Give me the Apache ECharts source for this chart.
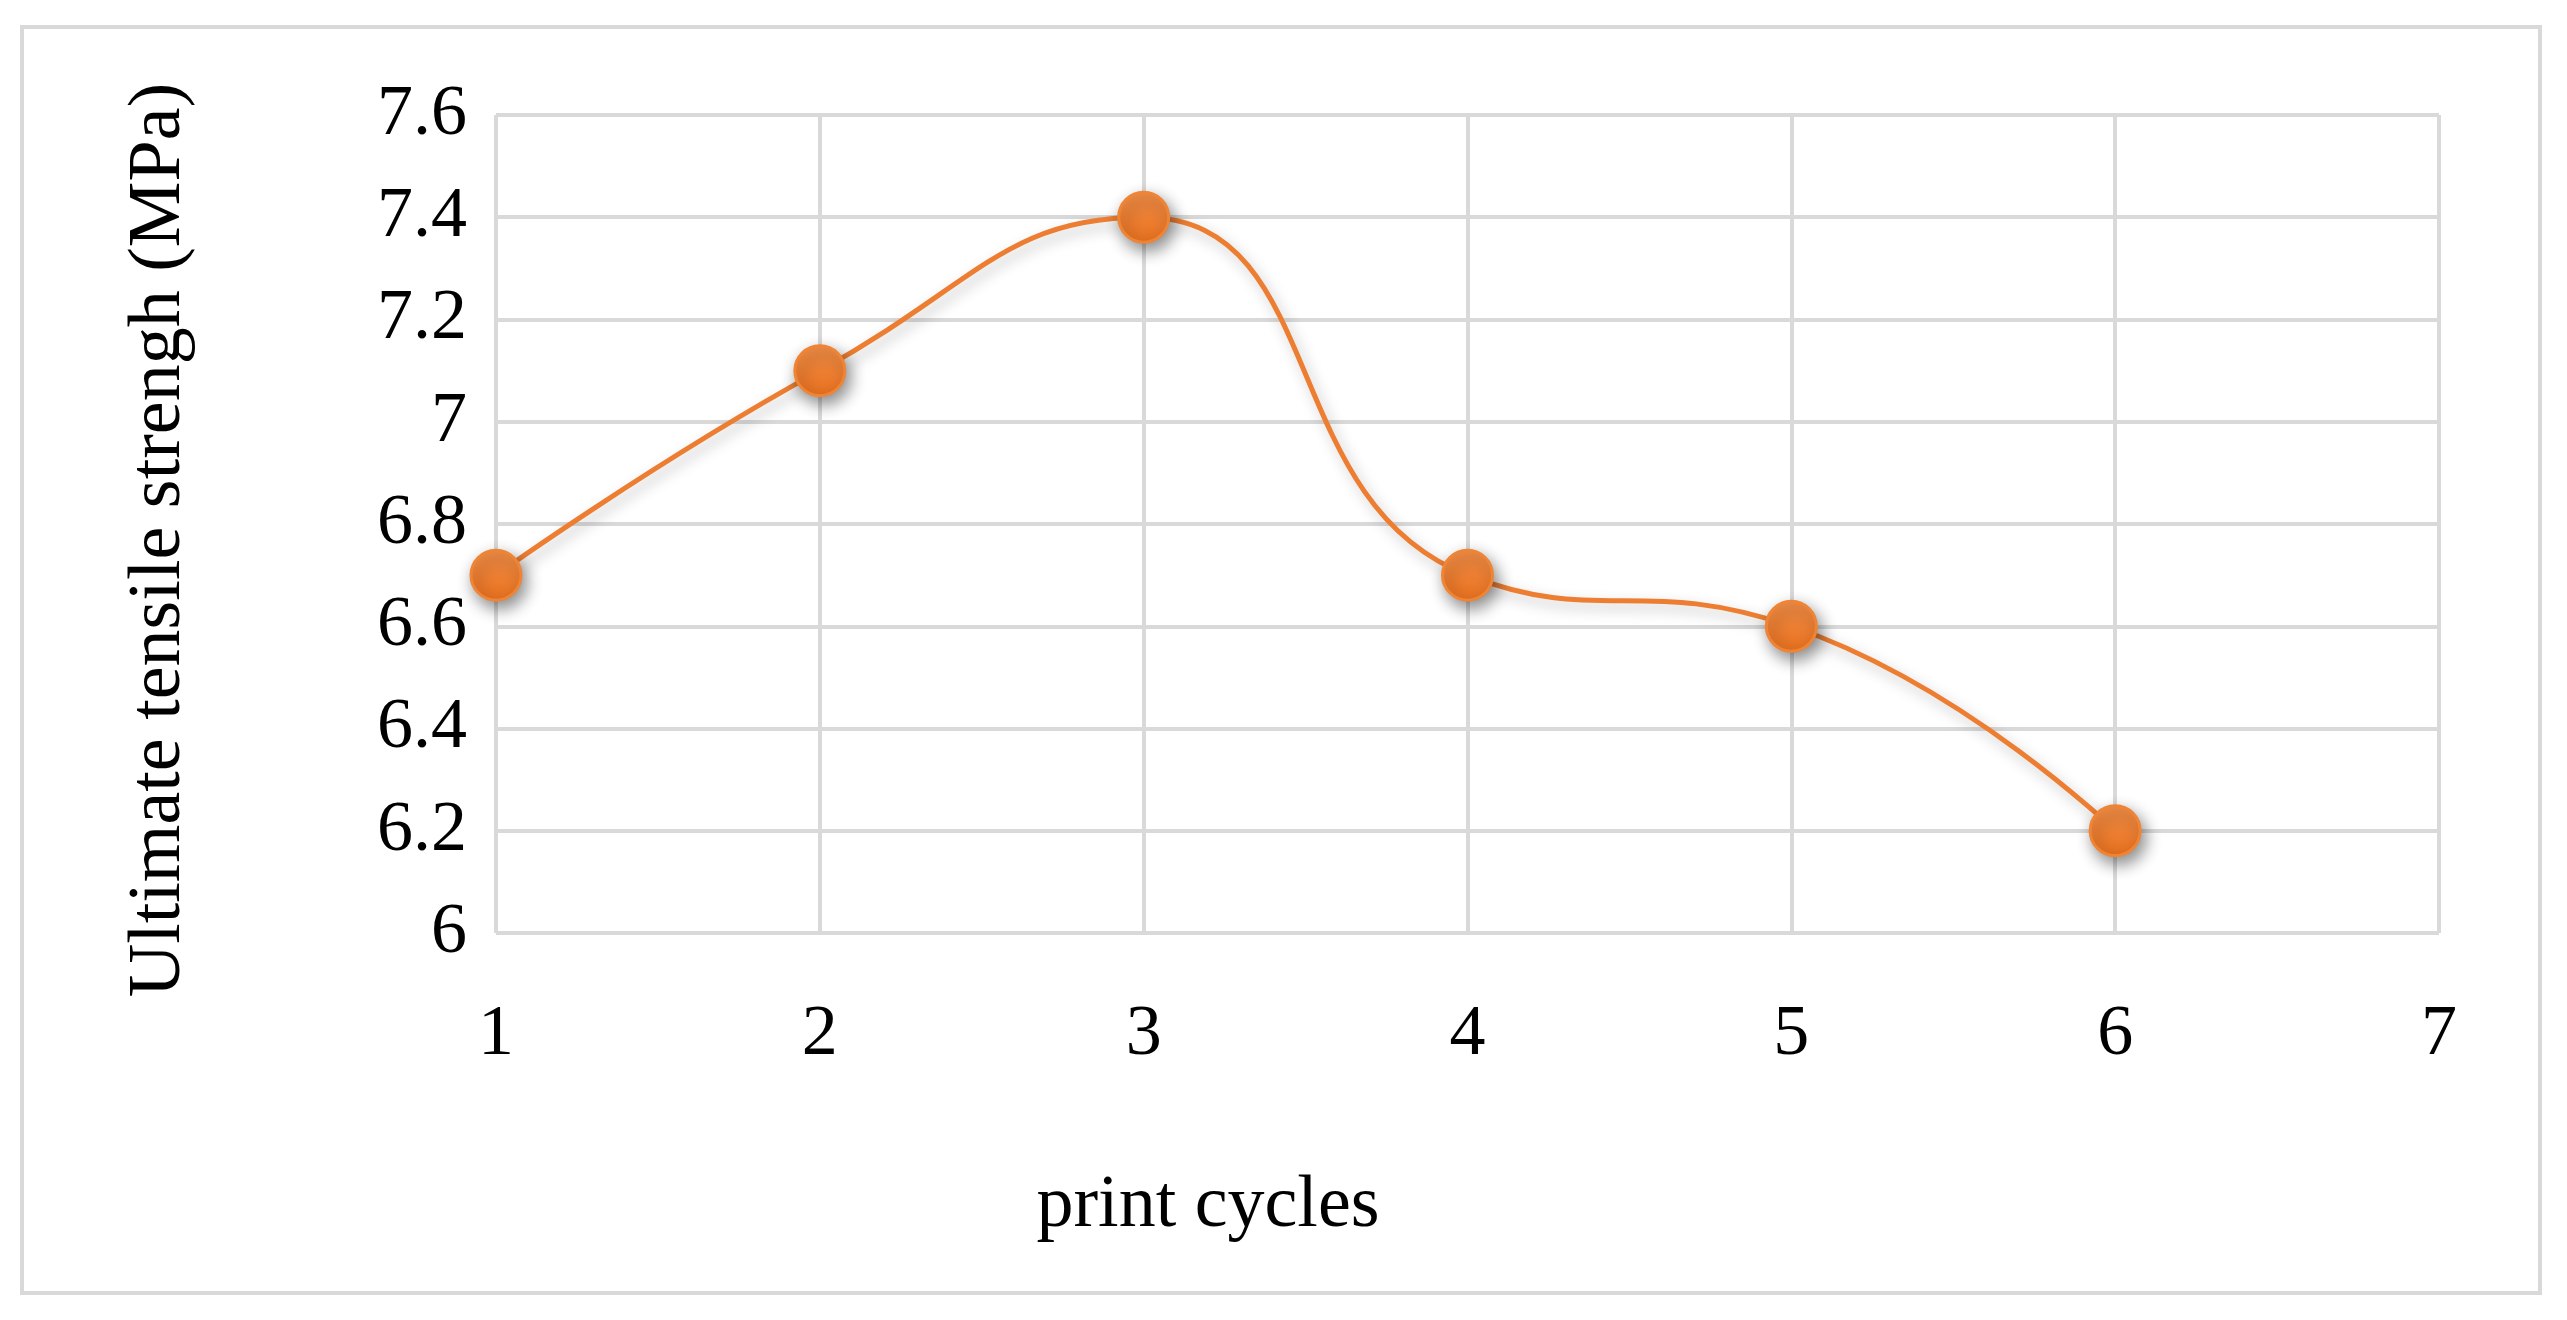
<!DOCTYPE html>
<html>
<head>
<meta charset="utf-8">
<script src="https://cdn.jsdelivr.net/npm/echarts@6/dist/echarts.min.js"></script>
<style>
  html, body { margin: 0; padding: 0; background: #fff; }
  #chart { width: 2567px; height: 1320px; }
</style>
</head>
<body>
<div id="chart"></div>
<script>
// print cycles and measured strength
const cycles = [1, 2, 3, 4, 5, 6];
const strength = [6.7, 7.1, 7.4, 6.7, 6.6, 6.2];

const FONT = "Liberation Serif";
const GRID_COLOR = "#d9d9d9";

const chart = echarts.init(document.getElementById("chart"));

const points = cycles.map((c, i) => [c, strength[i]]);

const option = {
    backgroundColor: "#fff",
    animation: false,
    title: [
        {
            text: "print cycles",
            left: 1203,
            top: 1165,
            textAlign: "center",
            textStyle: { fontFamily: FONT, fontSize: 74, fontWeight: "normal", color: "#000" }
        }
    ],
    graphic: [
        {
            type: "rect",
            shape: { x: 22, y: 27, width: 2518, height: 1266 },
            style: { fill: "none", stroke: GRID_COLOR, lineWidth: 4 },
            silent: true
        },
        {
            type: "text",
            x: 160,
            y: 540,
            rotation: Math.PI / 2,
            style: {
                text: "Ultimate tensile strengh (MPa)",
                fontFamily: FONT,
                fontSize: 74,
                fill: "#000",
                align: "center",
                verticalAlign: "middle"
            }
        }
    ],
    grid: {
        left: 496,
        right: 128,
        top: 115,
        bottom: 387
    },
    xAxis: {
        type: "value",
        min: 1,
        max: 7,
        interval: 1,
        axisLine: { show: false },
        axisTick: { show: false },
        axisLabel: { fontFamily: FONT, fontSize: 72, color: "#000", margin: 66 },
        splitLine: { show: true, lineStyle: { color: GRID_COLOR, width: 4 } }
    },
    yAxis: {
        type: "value",
        min: 6,
        max: 7.6,
        interval: 0.2,
        axisLine: { show: false },
        axisTick: { show: false },
        axisLabel: { fontFamily: FONT, fontSize: 72, color: "#000", margin: 29 },
        splitLine: { show: true, lineStyle: { color: GRID_COLOR, width: 4 } }
    },
    series: [
        {
            type: "line",
            data: points,
            smooth: 0.5,
            symbol: "circle",
            symbolSize: 50,
            lineStyle: {
                color: "#ED7D31",
                width: 5,
                shadowBlur: 14,
                shadowColor: "rgba(0,0,0,0.25)",
                shadowOffsetX: 4,
                shadowOffsetY: 6
            },
            itemStyle: {
                color: {
                    type: "linear",
                    x: 0, y: 0, x2: 0, y2: 1,
                    colorStops: [
                        { offset: 0, color: "#F28F48" },
                        { offset: 1, color: "#E8701E" }
                    ]
                },
                borderColor: "#F08435",
                borderWidth: 3,
                shadowBlur: 16,
                shadowColor: "rgba(0,0,0,0.45)",
                shadowOffsetX: 4,
                shadowOffsetY: 7
            }
        }
    ]
};

chart.setOption(option);
</script>
</body>
</html>
